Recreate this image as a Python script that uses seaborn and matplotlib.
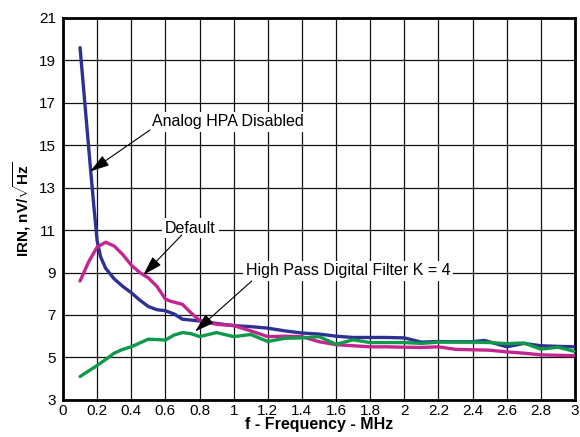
import matplotlib
matplotlib.use("Agg")
import matplotlib.pyplot as plt
import seaborn as sns
import pandas as pd

# Analog HPA Disabled (blue)
blue_x = [0.10, 0.13, 0.16, 0.18, 0.20, 0.22, 0.25, 0.30, 0.35, 0.40, 0.45, 0.50, 0.55, 0.60,
          0.65, 0.70, 0.80, 0.90, 1.00, 1.10, 1.20, 1.30, 1.40, 1.50, 1.60, 1.70, 1.80, 1.90,
          2.00, 2.10, 2.20, 2.30, 2.40, 2.47, 2.60, 2.70, 2.80, 2.90, 3.00]
blue_y = [19.6, 16.8, 14.0, 12.2, 10.5, 9.75, 9.2, 8.7, 8.35, 8.05, 7.7, 7.4, 7.25, 7.2,
          7.05, 6.8, 6.72, 6.6, 6.5, 6.45, 6.38, 6.25, 6.15, 6.1, 6.0, 5.94, 5.94, 5.94,
          5.92, 5.72, 5.75, 5.74, 5.74, 5.8, 5.5, 5.66, 5.55, 5.52, 5.5]

# Default (magenta)
pink_x = [0.10, 0.15, 0.20, 0.25, 0.30, 0.35, 0.40, 0.45, 0.50, 0.55, 0.60, 0.63, 0.70, 0.75,
          0.80, 0.90, 1.00, 1.10, 1.20, 1.30, 1.40, 1.50, 1.60, 1.70, 1.80, 1.90, 2.00, 2.10,
          2.20, 2.30, 2.40, 2.50, 2.60, 2.70, 2.80, 2.90, 3.00]
pink_y = [8.6, 9.5, 10.2, 10.43, 10.25, 9.85, 9.35, 9.0, 8.75, 8.35, 7.75, 7.65, 7.5, 7.1,
          6.75, 6.56, 6.5, 6.25, 5.98, 6.0, 5.98, 5.74, 5.6, 5.55, 5.5, 5.5, 5.48, 5.47,
          5.5, 5.38, 5.36, 5.34, 5.26, 5.2, 5.12, 5.1, 5.08]

# High Pass Digital Filter K = 4 (green)
green_x = [0.10, 0.20, 0.25, 0.30, 0.35, 0.40, 0.50, 0.60, 0.65, 0.70, 0.75, 0.80, 0.90, 1.00,
           1.10, 1.20, 1.30, 1.40, 1.50, 1.60, 1.70, 1.80, 1.90, 2.00, 2.10, 2.20, 2.30, 2.40,
           2.50, 2.60, 2.70, 2.80, 2.90, 3.00]
green_y = [4.1, 4.62, 4.9, 5.2, 5.38, 5.5, 5.86, 5.82, 6.05, 6.17, 6.12, 5.98, 6.17, 5.98,
           6.08, 5.75, 5.9, 5.92, 5.98, 5.62, 5.83, 5.7, 5.7, 5.7, 5.66, 5.72, 5.72, 5.72,
           5.7, 5.65, 5.68, 5.39, 5.48, 5.28]

series_names = ["Analog HPA Disabled", "Default", "High Pass Digital Filter K = 4"]
x_ticks = [0, 0.2, 0.4, 0.6, 0.8, 1, 1.2, 1.4, 1.6, 1.8, 2, 2.2, 2.4, 2.6, 2.8, 3]
x_tick_labels = ["0", "0.2", "0.4", "0.6", "0.8", "1", "1.2", "1.4", "1.6", "1.8",
                 "2", "2.2", "2.4", "2.6", "2.8", "3"]
y_ticks = [3, 5, 7, 9, 11, 13, 15, 17, 19, 21]

df = pd.concat([
    pd.DataFrame({"f": blue_x, "irn": blue_y, "series": series_names[0]}),
    pd.DataFrame({"f": pink_x, "irn": pink_y, "series": series_names[1]}),
    pd.DataFrame({"f": green_x, "irn": green_y, "series": series_names[2]}),
], ignore_index=True)

sns.set_style("white")
plt.rcParams["font.family"] = ["Liberation Sans", "DejaVu Sans"]
plt.rcParams["text.color"] = "black"
plt.rcParams["axes.labelcolor"] = "black"
plt.rcParams["mathtext.fontset"] = "custom"
plt.rcParams["mathtext.rm"] = "Liberation Sans"
plt.rcParams["mathtext.bf"] = "Liberation Sans:bold"

fig = plt.figure(figsize=(5.8, 4.37), dpi=100)
ax = fig.add_axes([0.1086, 0.085, 0.8828, 0.874])

palette = {series_names[0]: "#2E3192", series_names[1]: "#C4268F", series_names[2]: "#0E9A4A"}
sns.lineplot(data=df, x="f", y="irn", hue="series", palette=palette, linewidth=2.4,
             legend=False, ax=ax, sort=False, estimator=None, zorder=3)

ax.set_xlim(0, 3)
ax.set_ylim(3, 21)
ax.set_xticks(x_ticks)
ax.set_xticklabels(x_tick_labels)
ax.set_yticks(y_ticks)
ax.grid(True, color="#111111", linewidth=0.9, zorder=0)
ax.set_axisbelow(True)
for s in ax.spines.values():
    s.set_linewidth(2)
    s.set_color("black")
ax.tick_params(axis="both", labelsize=11, length=0, colors="black")
ax.tick_params(axis="x", pad=3)
ax.tick_params(axis="y", pad=5)

ax.set_xlabel("f - Frequency - MHz", fontsize=11.5, fontweight="bold", labelpad=-1)
ax.set_ylabel(r"IRN, nV/$\mathbf{\sqrt{Hz}}$", fontsize=11, fontweight="bold", labelpad=4)

bbox = dict(facecolor="white", edgecolor="none", pad=2)
ap = dict(arrowstyle="-|>,head_length=1.0,head_width=0.3", color="black", lw=0.8,
          mutation_scale=12, shrinkA=0, shrinkB=0)

# label texts
ax.text(0.522, 16.1, series_names[0], fontsize=11.5, va="center", ha="left", bbox=bbox, zorder=5)
ax.text(0.747, 11.09, series_names[1], fontsize=11.5, va="center", ha="center", bbox=bbox, zorder=5)
ax.text(1.073, 9.08, series_names[2], fontsize=11.5, va="center", ha="left", bbox=bbox, zorder=5)

# arrows (head at curve, tail at label)
ax.annotate("", xy=(0.158, 13.76), xytext=(0.51, 15.72), arrowprops=ap, zorder=6)
ax.annotate("", xy=(0.471, 8.89), xytext=(0.696, 10.77), arrowprops=ap, zorder=6)
ax.annotate("", xy=(0.774, 6.22), xytext=(1.106, 8.6), arrowprops=ap, zorder=6)

fig.savefig("out.png", dpi=100)
